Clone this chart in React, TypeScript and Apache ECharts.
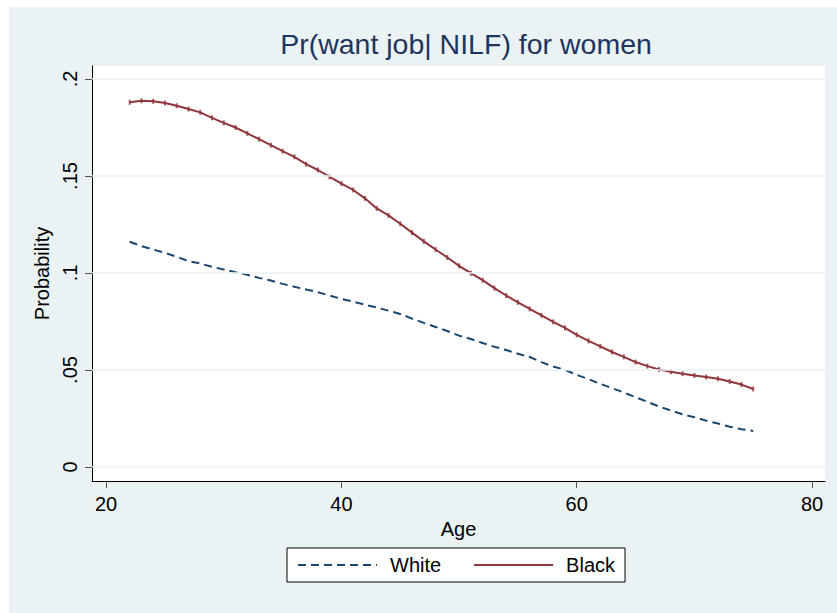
import React, { useEffect, useRef } from 'react';
import * as echarts from 'echarts';

const ages = [
  22, 23, 24, 25, 26, 27, 28, 29, 30, 31, 32, 33, 34, 35, 36, 37, 38, 39, 40, 41, 42, 43, 44, 45, 46, 47, 48,
  49, 50, 51, 52, 53, 54, 55, 56, 57, 58, 59, 60, 61, 62, 63, 64, 65, 66, 67, 68, 69, 70, 71, 72, 73, 74, 75,
];

const whiteProb = [
  0.1161, 0.1139, 0.1121, 0.1104, 0.1084, 0.1061, 0.1049, 0.1032, 0.1018, 0.1004, 0.0991, 0.0975, 0.0961,
  0.0944, 0.0929, 0.0915, 0.0901, 0.0884, 0.0867, 0.0852, 0.0837, 0.0822, 0.0806, 0.0789, 0.0765, 0.0743,
  0.0722, 0.0701, 0.0677, 0.066, 0.0639, 0.062, 0.0603, 0.0584, 0.0567, 0.0541, 0.0518, 0.0501, 0.0475,
  0.0453, 0.0429, 0.0407, 0.0384, 0.036, 0.0336, 0.0312, 0.0291, 0.0272, 0.0257, 0.0239, 0.0224, 0.0208,
  0.0195, 0.0186,
];

const blackProb = [
  0.188, 0.1888, 0.1885, 0.1876, 0.1862, 0.1845, 0.1828, 0.18, 0.1774, 0.175, 0.172, 0.169, 0.1659, 0.1628,
  0.1599, 0.1561, 0.1531, 0.1495, 0.1461, 0.1428, 0.1385, 0.1333, 0.1297, 0.1254, 0.1208, 0.1163, 0.1121,
  0.108, 0.1037, 0.0999, 0.0963, 0.0922, 0.0884, 0.0849, 0.0815, 0.0782, 0.0748, 0.0717, 0.0681, 0.065,
  0.0622, 0.0593, 0.0568, 0.0541, 0.052, 0.0503, 0.0491, 0.0481, 0.0472, 0.0464, 0.0455, 0.0441, 0.0425,
  0.0402,
];

const xTicks = [20, 40, 60, 80];
const yTicks = [0, 0.05, 0.1, 0.15, 0.2];

const FONT = "'Liberation Sans', Arial, Helvetica, sans-serif";
const BG = '#EAF2F3';
const NAVY = '#1A476F';
const MAROON = '#90353B';

const App: React.FC = () => {
  const chartRef = useRef<HTMLDivElement>(null);

  useEffect(() => {
    if (!chartRef.current) return;
    const chart = echarts.init(chartRef.current, undefined, { renderer: 'svg' });

    const whiteData = ages.map((a, i) => [a, whiteProb[i]]);
    const blackData = ages.map((a, i) => [a, blackProb[i]]);

    const option: echarts.EChartsOption = {
      animation: false,
      backgroundColor: '#fff',
      textStyle: { fontFamily: FONT },
      graphic: [
        {
          type: 'rect',
          z: -10,
          silent: true,
          shape: { x: 9, y: 7, width: 828, height: 606 },
          style: { fill: BG },
        },
        {
          type: 'text',
          x: 466,
          y: 44,
          silent: true,
          style: {
            text: 'Pr(want job| NILF) for women',
            fontSize: 28.5,
            fontFamily: FONT,
            fill: '#1E3560',
            align: 'center',
            verticalAlign: 'middle',
          },
        },
      ],
      grid: {
        left: 92,
        top: 66,
        right: 12,
        bottom: 132,
        show: true,
        backgroundColor: '#fff',
        borderWidth: 0,
      },
      legend: {
        data: ['White', 'Black'],
        left: 287,
        top: 548,
        padding: [7, 10],
        itemWidth: 79,
        itemHeight: 12,
        itemGap: 32,
        backgroundColor: '#fff',
        borderColor: '#000',
        borderWidth: 1,
        borderRadius: 0,
        itemStyle: { opacity: 0 },
        textStyle: { fontSize: 20, color: '#000', fontFamily: FONT, padding: [0, 0, 0, 8] },
      },
      xAxis: {
        type: 'value',
        min: 18.8,
        max: 81.1,
        name: 'Age',
        nameLocation: 'middle',
        nameGap: 36,
        nameTextStyle: { fontSize: 20, color: '#000', fontFamily: FONT },
        axisLine: { show: true, onZero: false, lineStyle: { color: '#000', width: 1 } },
        axisTick: { show: true, customValues: xTicks, length: 7, lineStyle: { color: '#555', width: 1 } },
        axisLabel: { customValues: xTicks, fontSize: 20, color: '#000', margin: 13, fontFamily: FONT },
        splitLine: { show: false },
      },
      yAxis: {
        type: 'value',
        min: -0.0072,
        max: 0.2067,
        name: 'Probability',
        nameLocation: 'middle',
        nameRotate: 90,
        nameGap: 40,
        nameTextStyle: { fontSize: 20, color: '#000', fontFamily: FONT },
        axisLine: { show: true, onZero: false, lineStyle: { color: '#000', width: 1 } },
        axisTick: { show: true, customValues: yTicks, length: 7, lineStyle: { color: '#555', width: 1 } },
        axisLabel: {
          customValues: yTicks,
          rotate: 90,
          fontSize: 20,
          color: '#000',
          margin: 12,
          fontFamily: FONT,
          formatter: (v: number) => (v === 0 ? '0' : String(v).replace(/^0/, '')),
        },
        splitLine: { show: false },
      },
      series: [
        {
          name: 'grid',
          type: 'line',
          data: [],
          z: 1,
          silent: true,
          markLine: {
            silent: true,
            symbol: 'none',
            label: { show: false },
            lineStyle: { color: BG, width: 1.5, type: 'solid' },
            data: yTicks.map((v) => ({ yAxis: v })),
          },
        },
        {
          name: 'White',
          type: 'line',
          data: whiteData,
          z: 3,
          symbol: 'none',
          color: NAVY,
          lineStyle: { color: NAVY, width: 2, type: [8, 5] },
        },
        {
          name: 'Black',
          type: 'line',
          data: blackData,
          z: 3,
          symbol: 'none',
          color: MAROON,
          lineStyle: { color: MAROON, width: 2 },
        },
        {
          name: 'Black marks',
          type: 'scatter',
          data: blackData,
          z: 4,
          symbol: 'rect',
          symbolSize: [2, 5],
          itemStyle: { color: MAROON },
          silent: true,
        },
      ],
    };

    chart.setOption(option);
    return () => {
      chart.dispose();
    };
  }, []);

  return (
    <div
      ref={chartRef}
      style={{ position: 'absolute', left: 0, top: 0, width: 837, height: 613 }}
    />
  );
};

export default App;
